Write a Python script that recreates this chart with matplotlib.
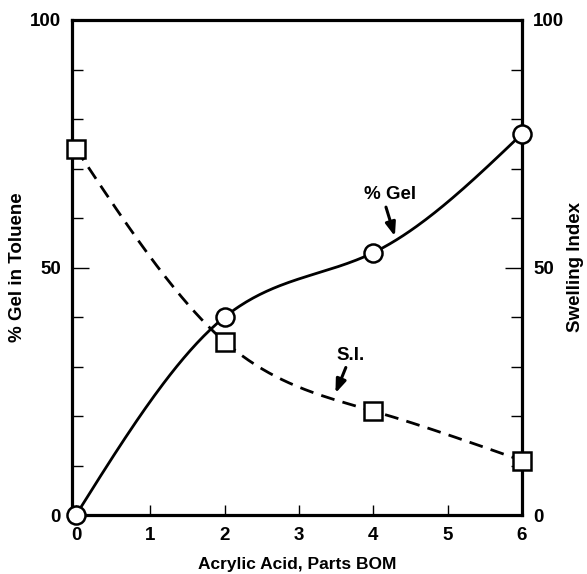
import numpy as np
import matplotlib
matplotlib.use("Agg")
import matplotlib.pyplot as plt

# ---- data ----
acid_parts = [0, 2, 4, 6]
gel_pct = [0, 40, 53, 77]
swelling_index = [74, 35, 21, 11]
x_ticks = [0, 1, 2, 3, 4, 5, 6]
y_ticks_major = [0, 50, 100]
y_ticks_minor = [10, 20, 30, 40, 60, 70, 80, 90]

FONT = "Liberation Sans"


def natural_spline(xs, ys, n=200):
    xs = np.asarray(xs, float)
    ys = np.asarray(ys, float)
    k = len(xs)
    h = np.diff(xs)
    A = np.zeros((k, k))
    b = np.zeros(k)
    A[0, 0] = 1
    A[-1, -1] = 1
    for i in range(1, k - 1):
        A[i, i - 1] = h[i - 1]
        A[i, i] = 2 * (h[i - 1] + h[i])
        A[i, i + 1] = h[i]
        b[i] = 6 * ((ys[i + 1] - ys[i]) / h[i] - (ys[i] - ys[i - 1]) / h[i - 1])
    M = np.linalg.solve(A, b)
    xx = np.linspace(xs[0], xs[-1], n)
    yy = np.empty_like(xx)
    for j, x in enumerate(xx):
        i = min(np.searchsorted(xs, x, side="right") - 1, k - 2)
        t0 = xs[i + 1] - x
        t1 = x - xs[i]
        yy[j] = (M[i] * t0 ** 3 / (6 * h[i]) + M[i + 1] * t1 ** 3 / (6 * h[i])
                 + (ys[i] / h[i] - M[i] * h[i] / 6) * t0
                 + (ys[i + 1] / h[i] - M[i + 1] * h[i] / 6) * t1)
    return xx, yy


fig = plt.figure(figsize=(5.87, 5.74), dpi=100)
ax = fig.add_axes([72 / 587, 1 - 515 / 574, 450 / 587, 495 / 574])
ax.set_xlim(-0.054, 6)
ax.set_ylim(0, 100)

gx, gy = natural_spline(acid_parts, gel_pct)
sx, sy = natural_spline(acid_parts, swelling_index)
ax.plot(gx, gy, color="black", lw=2.0, solid_capstyle="butt", zorder=3)
ax.plot(sx, sy, color="black", lw=2.0, dashes=(5, 3), zorder=3)
ax.plot(acid_parts, gel_pct, linestyle="none", marker="o", ms=13, mfc="white",
        mec="black", mew=1.8, clip_on=False, zorder=5)
ax.plot(acid_parts, swelling_index, linestyle="none", marker="s", ms=12.5, mfc="white",
        mec="black", mew=1.8, clip_on=False, zorder=5)

for s in ax.spines.values():
    s.set_linewidth(2.3)

ax.set_xticks(x_ticks)
ax.set_xticklabels([str(v) for v in x_ticks], fontfamily=FONT, fontweight="bold", fontsize=13.5)
ax.tick_params(axis="x", direction="in", length=7, width=1.0, pad=9)
ax.set_yticks(y_ticks_major)
ax.set_yticklabels([str(v) for v in y_ticks_major], fontfamily=FONT, fontweight="bold", fontsize=13.5)
ax.set_yticks(y_ticks_minor, minor=True)
ax.tick_params(axis="y", which="major", direction="in", length=12, width=1.0, pad=8,
               left=True, right=True, labelleft=True, labelright=True)
ax.tick_params(axis="y", which="minor", direction="in", length=8, width=1.0,
               left=True, right=True)

ax.set_xlabel("Acrylic Acid, Parts BOM", fontfamily=FONT, fontweight="bold", fontsize=12.5, labelpad=9)
fig.text(18 / 587, 1 - 267 / 574, "% Gel in Toluene", rotation=90, ha="center", va="center",
         fontfamily=FONT, fontweight="bold", fontsize=13.5)
fig.text(576 / 587, 1 - 267 / 574, "Swelling Index", rotation=90, ha="center", va="center",
         fontfamily=FONT, fontweight="bold", fontsize=13.5)

arrow = dict(arrowstyle="-|>,head_length=0.8,head_width=0.3", color="black",
             lw=2.2, shrinkA=0, shrinkB=0)
ax.text(4.22, 64.8, "% Gel", ha="center", va="center",
        fontfamily=FONT, fontweight="bold", fontsize=13.5)
ax.annotate("", xy=(4.29, 56.3), xytext=(4.17, 62.2), arrowprops=arrow)
ax.text(3.69, 32.2, "S.I.", ha="center", va="center",
        fontfamily=FONT, fontweight="bold", fontsize=13.5)
ax.annotate("", xy=(3.49, 24.6), xytext=(3.63, 29.8), arrowprops=arrow)

fig.savefig("out.png", dpi=100)
